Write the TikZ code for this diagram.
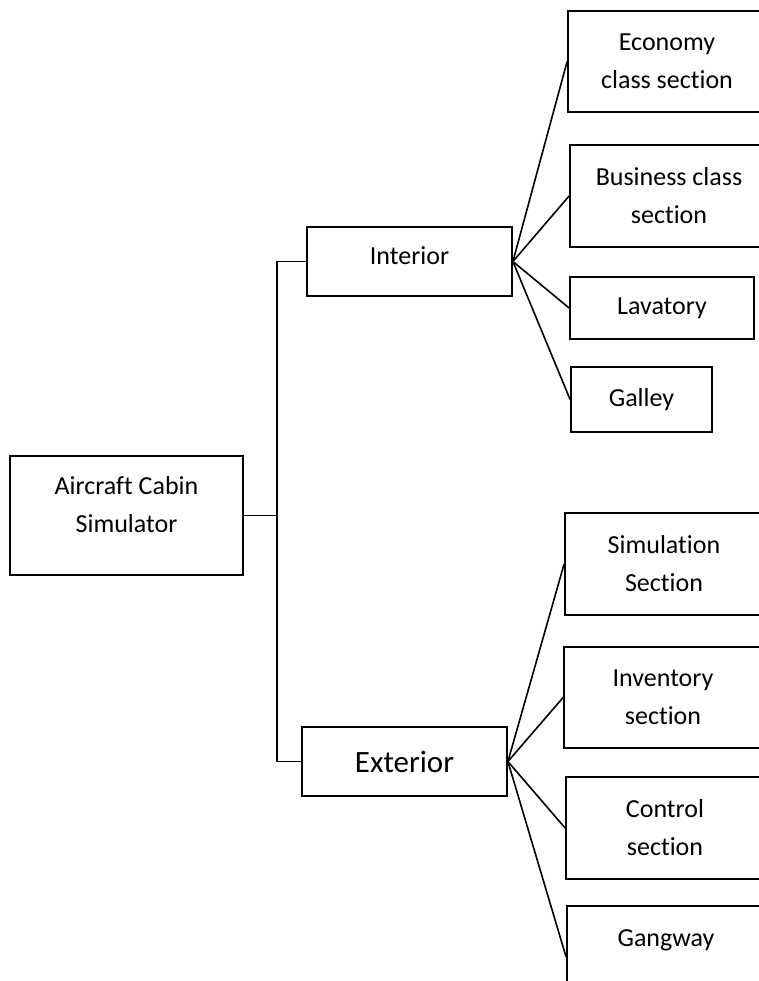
\documentclass[tikz,border=0pt]{standalone}
\usepackage{fontspec}
\setmainfont[Ligatures=NoCommon]{Carlito}

\tikzset{
  box/.style={draw, line width=1.8pt, align=center, inner sep=0pt,
              font=\fontsize{26}{38}\selectfont},
  link/.style={line width=1.6pt}
}

\begin{document}
\begin{tikzpicture}[x=1pt,y=-1pt]
  \useasboundingbox (0,0) rectangle (759,981);

  % root and the two branches
  \node[box, minimum width=233, minimum height=119, text depth=22] (sim) at (126.5,515.5) {Aircraft Cabin\\Simulator};
  \node[box, minimum width=205, minimum height=69, text depth=12] (int) at (409.5,261.5) {Interior};
  \node[box, minimum width=205, minimum height=69, font=\fontsize{31}{38}\selectfont] (ext) at (404.5,761.5) {Exterior};
  \coordinate (fork) at (277,515.5);

  % interior parts
  \node[box, minimum width=198, minimum height=101] (eco) at (667,61.5) {Economy\\class section};
  \node[box, minimum width=198, minimum height=102] (bus) at (669,196) {Business class\\section};
  \node[box, minimum width=184, minimum height=62] (lav) at (662,308) {Lavatory};
  \node[box, minimum width=141, minimum height=65] (gal) at (641.5,399.5) {Galley};

  % exterior parts
  \node[box, minimum width=198, minimum height=102] (simsec) at (664,564) {Simulation\\Section};
  \node[box, minimum width=198, minimum height=101] (inv) at (663,697.5) {Inventory\\section};
  \node[box, minimum width=198, minimum height=102] (ctrl) at (665,828) {Control\\section};
  \node[box, minimum width=198, minimum height=102] (gang) at (666,957) {Gangway\\\mbox{}};

  % connectors
  \draw[link] (sim.east) -- (fork);
  \draw[link] (int.west) -| (fork) |- (ext.west);
  \foreach \n in {eco,bus,lav,gal}
    \draw[link] (int.east) -- (\n.west);
  \foreach \n in {simsec,inv,ctrl,gang}
    \draw[link] (ext.east) -- (\n.west);
\end{tikzpicture}
\end{document}
